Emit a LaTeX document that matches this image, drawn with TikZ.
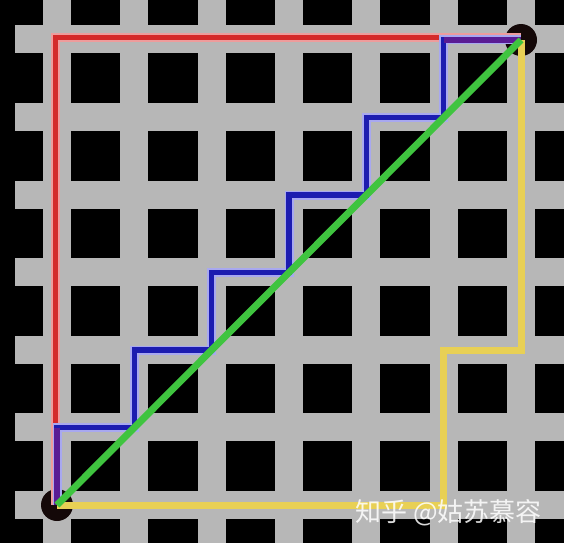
\documentclass[tikz,border=0pt]{standalone}
\usepackage{fontspec}
\newfontfamily\cjk{Noto Sans CJK SC}
\definecolor{streetgray}{HTML}{B7B7B7}
\definecolor{redcore}{HTML}{D42A2A}
\definecolor{redhalo}{HTML}{EE9C9C}
\definecolor{bluecore}{HTML}{1C1CB0}
\definecolor{bluehalo}{HTML}{A8A8F0}
\definecolor{mixpurple}{HTML}{5A1C94}
\definecolor{greenline}{HTML}{3FC43F}
\definecolor{yellowline}{HTML}{E8D055}
\definecolor{dotcol}{HTML}{140808}
\begin{document}
\begin{tikzpicture}[x=1pt,y=-1pt,
  street/.style={fill=streetgray},
  halored/.style={draw=redhalo,line width=9pt,line join=miter},
  corered/.style={draw=redcore,line width=5pt,line join=miter},
  haloblue/.style={draw=bluehalo,line width=9pt,line join=miter},
  coreblue/.style={draw=bluecore,line width=5.5pt,line join=miter},
  overlap/.style={draw=mixpurple,line width=5.5pt},
  yellowpath/.style={draw=yellowline,line width=7pt,line join=miter},
  greenpath/.style={draw=greenline,line width=7pt},
  enddot/.style={fill=dotcol},
  mark text/.style={anchor=west,text=white,opacity=0.85,inner sep=0pt,
    font=\cjk\fontsize{26}{26}\selectfont}]
\useasboundingbox (0,0) rectangle (564,543);
\fill[black] (0,0) rectangle (564,543);
\foreach \k in {0,...,6} {
  \pgfmathsetmacro\xc{57+77.333*\k}
  \pgfmathsetmacro\yc{39.5+77.5*\k}
  \fill[street] (\xc-14,0) rectangle (\xc+14,543);
  \fill[street] (15,\yc-14) rectangle (564,\yc+14);
}
\coordinate (S) at (57,505);
\coordinate (E) at (521,40);
\fill[enddot] (S) circle (16pt);
\fill[enddot] (E) circle (16pt);
% red path
\draw[halored] ([xshift=-2pt]S) |- ([yshift=2pt]E);
\draw[corered] ([xshift=-2pt]S) |- ([yshift=2pt]E);
% blue staircase
\foreach \st in {haloblue,coreblue}
  \draw[\st] (S) -- ++(0,-77.5) -- ++(77.333,0) -- ++(0,-77.5) -- ++(77.333,0)
    -- ++(0,-77.5) -- ++(77.333,0) -- ++(0,-77.5) -- ++(77.333,0)
    -- ++(0,-77.5) -- ++(77.333,0) -- ++(0,-77.5) -- (E);
\draw[overlap] (S) -- ++(0,-77.5);
\draw[overlap] (E) -- ++(-77.333,0);
% yellow path
\draw[yellowpath] (S) -- ++(386.667,0) -- ++(0,-155) -| (E);
% green diagonal
\draw[greenpath] (S) -- (E);
\node[mark text] (wm) at (355,513) {知乎 @姑苏慕容};
\end{tikzpicture}
\end{document}
